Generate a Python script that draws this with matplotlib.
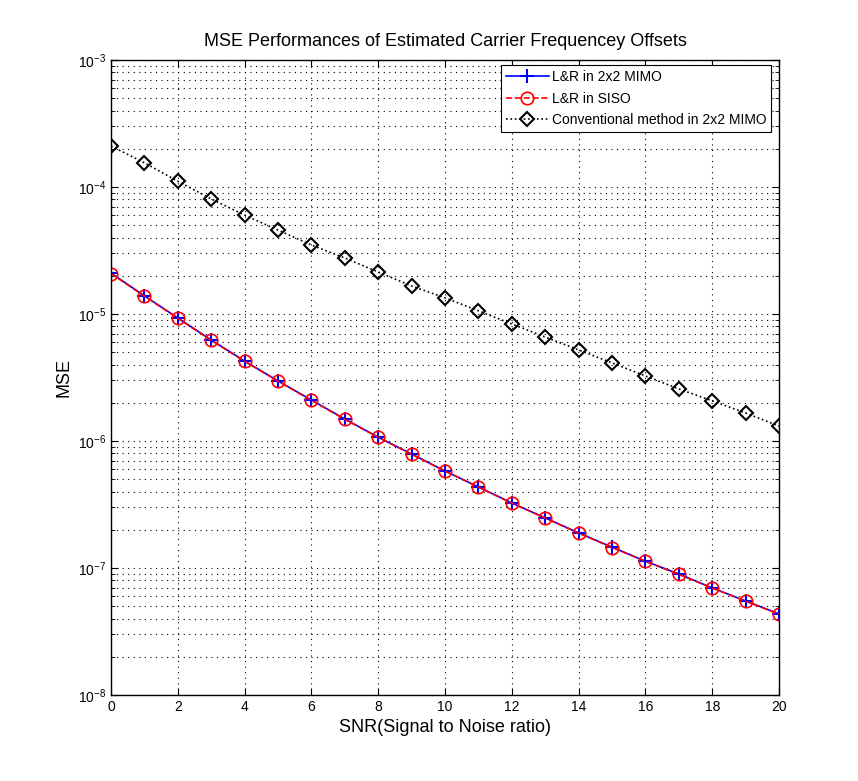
#!/usr/bin/env python3
"""MSE of estimated carrier frequency offsets versus SNR."""

import matplotlib
matplotlib.use("Agg")
import matplotlib.pyplot as plt
from matplotlib.ticker import LogLocator, NullFormatter

plt.rcParams["font.family"] = ["Liberation Sans", "DejaVu Sans"]
plt.rcParams["mathtext.fontset"] = "custom"
plt.rcParams["mathtext.rm"] = "Liberation Sans"

snr = list(range(21))

mse_mimo = [2.1e-5, 1.39e-5, 9.3e-6, 6.24e-6, 4.26e-6, 2.97e-6, 2.1e-6,
            1.49e-6, 1.07e-6, 7.9e-7, 5.8e-7, 4.35e-7, 3.25e-7, 2.48e-7,
            1.89e-7, 1.46e-7, 1.13e-7, 8.97e-8, 6.97e-8, 5.5e-8, 4.35e-8]
mse_siso = [2.08e-5, 1.38e-5, 9.25e-6, 6.2e-6, 4.24e-6, 2.96e-6, 2.09e-6,
            1.48e-6, 1.07e-6, 7.85e-7, 5.8e-7, 4.33e-7, 3.24e-7, 2.47e-7,
            1.88e-7, 1.45e-7, 1.13e-7, 8.9e-8, 6.95e-8, 5.48e-8, 4.33e-8]
mse_conv = [2.1e-4, 1.55e-4, 1.11e-4, 8.05e-5, 6.0e-5, 4.58e-5, 3.49e-5,
            2.76e-5, 2.14e-5, 1.66e-5, 1.34e-5, 1.06e-5, 8.34e-6, 6.59e-6,
            5.21e-6, 4.12e-6, 3.25e-6, 2.57e-6, 2.07e-6, 1.66e-6, 1.31e-6]

labels = ["L&R in 2x2 MIMO", "L&R in SISO", "Conventional method in 2x2 MIMO"]


def main():
    fig = plt.figure(figsize=(8.58, 7.81), dpi=100)
    ax = fig.add_axes([0.1294, 0.1101, 0.7786, 0.8131])

    ax.semilogy(snr, mse_mimo, "b-+", lw=1.2, ms=10, mew=1.5, label=labels[0])
    ax.semilogy(snr, mse_siso, "r--o", lw=1.2, ms=9, mew=1.2,
                mfc="none", label=labels[1])
    ax.semilogy(snr, mse_conv, "k:D", lw=1.2, ms=7, mew=1.5,
                mfc="none", label=labels[2])

    ax.set_xlim(0, 20)
    ax.set_ylim(1e-8, 1e-3)
    ax.set_xticks(range(0, 21, 2))
    ax.yaxis.set_major_locator(LogLocator(base=10, numticks=10))
    ax.yaxis.set_minor_locator(LogLocator(base=10, subs=range(2, 10), numticks=20))
    ax.yaxis.set_minor_formatter(NullFormatter())

    grid_ls = (0, (1, 4))
    ax.grid(True, which="major", color="k", ls=grid_ls, lw=0.8)
    ax.grid(True, which="minor", axis="y", color="k", ls=grid_ls, lw=0.8)
    ax.tick_params(which="both", direction="in", top=True, right=True, labelsize=10)
    ax.tick_params(which="major", length=5)
    ax.tick_params(which="minor", length=3)
    for s in ax.spines.values():
        s.set_linewidth(1.0)

    ax.set_title("MSE Performances of Estimated Carrier Frequencey Offsets",
                 fontsize=13, pad=10)
    ax.set_xlabel("SNR(Signal to Noise ratio)", fontsize=13)
    ax.set_ylabel("MSE", fontsize=13)

    leg = ax.legend(loc="upper right", bbox_to_anchor=(0.988, 0.992),
                    borderaxespad=0, fontsize=10, fancybox=False, edgecolor="k",
                    framealpha=1, borderpad=0.35, labelspacing=0.55,
                    handlelength=3.1, handletextpad=0.2)
    leg.get_frame().set_linewidth(0.8)

    fig.savefig("out.png", dpi=100)


if __name__ == "__main__":
    main()
